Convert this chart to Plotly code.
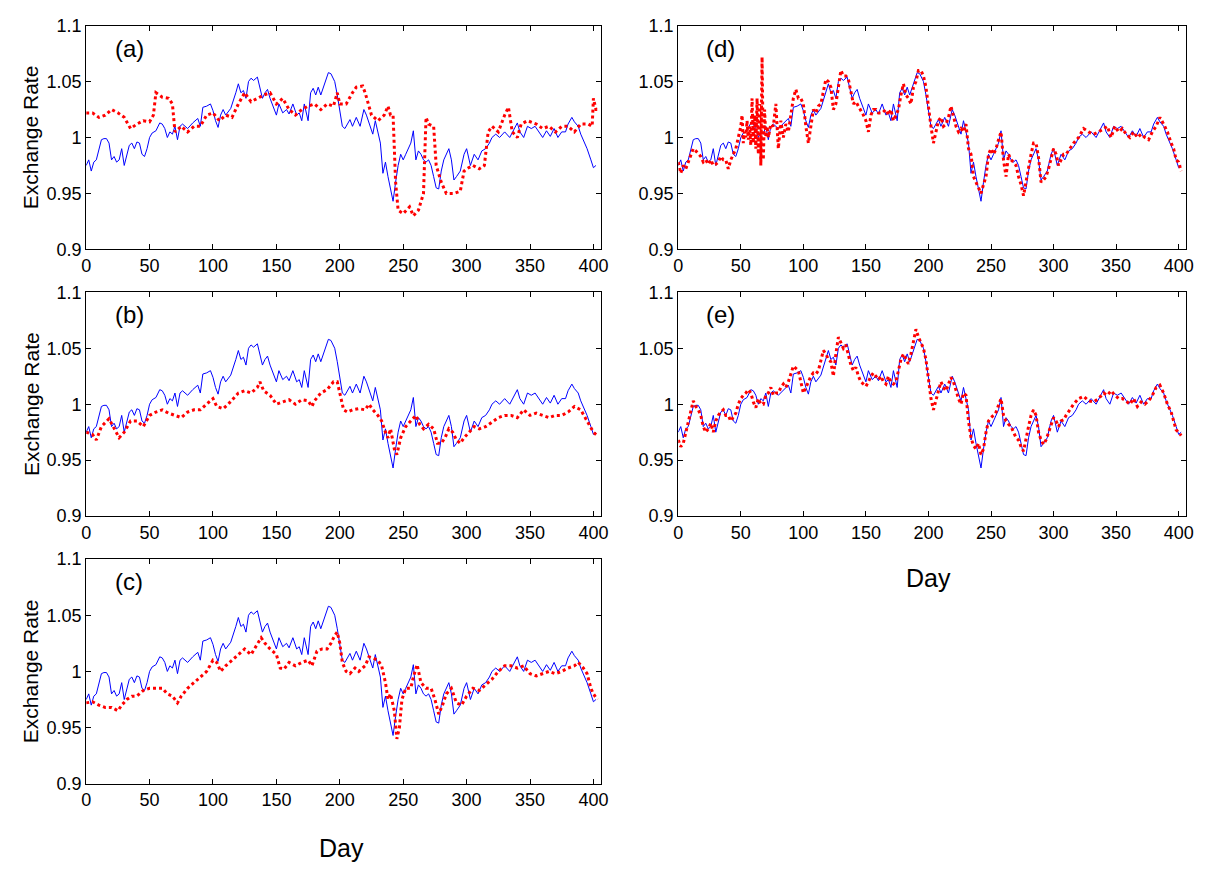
import plotly.graph_objects as go

# ---------------- data ----------------
actual_days = [0, 2, 4, 6, 8, 10, 12, 14, 16, 18, 20, 22, 24, 26, 28, 30, 32, 34, 36, 38, 40, 42, 44, 46, 48,
               50, 52, 55, 58, 60, 62, 64, 66, 68, 70, 72, 74, 76, 80, 84, 88, 90, 92, 95, 98, 100, 102, 104,
               106, 108, 110, 114, 118, 120, 122, 124, 126, 128, 130, 132, 135, 137, 139, 141, 143, 145, 148,
               150, 152, 155, 158, 160, 163, 166, 168, 170, 172, 175, 177, 179, 181, 183, 185, 187, 189, 191,
               193, 196, 198, 200, 202, 204, 206, 208, 210, 213, 216, 219, 221, 224, 226, 228, 230, 232, 234,
               236, 238, 240, 242, 244, 246, 248, 250, 252, 254, 256, 258, 260, 262, 264, 266, 268, 270, 272,
               274, 276, 278, 280, 282, 284, 286, 288, 290, 292, 295, 298, 300, 303, 306, 309, 312, 315, 318,
               320, 323, 326, 330, 334, 337, 340, 342, 345, 348, 351, 354, 357, 360, 363, 366, 369, 372, 375,
               378, 380, 383, 385, 388, 390, 392, 395, 398, 400, 402]
actual_vals = [0.975, 0.98, 0.97, 0.978, 0.98, 0.99, 0.998, 0.999, 0.999, 0.995, 0.98, 0.983, 0.978, 0.98, 0.99,
               0.975, 0.985, 0.993, 0.995, 0.99, 0.996, 0.995, 0.985, 0.983, 0.99,
               1.0, 1.004, 1.006, 1.013, 1.012, 1.008, 1.0, 1.005, 1.003, 1.01, 0.998, 1.01, 1.012, 1.008,
               1.013, 1.017, 1.01, 1.027, 1.028, 1.03, 1.024, 1.015, 1.009,
               1.02, 1.025, 1.02, 1.026, 1.04, 1.048, 1.04, 1.042, 1.035, 1.05, 1.053, 1.051, 1.054, 1.045,
               1.035, 1.04, 1.043, 1.035, 1.025,
               1.02, 1.03, 1.022, 1.025, 1.021, 1.03, 1.02, 1.022, 1.015, 1.03, 1.015, 1.04, 1.044, 1.038,
               1.045, 1.038, 1.045, 1.05, 1.058,
               1.057, 1.05, 1.038, 1.025, 1.01, 1.008, 1.012, 1.016, 1.01, 1.018, 1.01, 1.025, 1.02, 1.01,
               1.003, 1.015, 1.005, 0.995, 0.968,
               0.978, 0.965, 0.955, 0.943, 0.96, 0.975, 0.985, 0.98, 0.985, 0.99, 0.995, 1.006, 0.98, 0.988,
               0.985, 0.98, 0.978, 0.98, 0.975,
               0.965, 0.955, 0.954, 0.97, 0.98, 0.985, 0.99, 0.98, 0.962, 0.965, 0.97, 0.985, 0.99, 0.975,
               0.985, 0.98, 0.988, 0.99, 0.995,
               1.0, 1.003, 1.0, 1.005, 1.0, 1.007, 1.013, 1.005, 1.0, 1.01, 1.008, 1.01, 1.005, 1.0, 1.006,
               1.001, 1.008, 1.0, 1.005,
               1.005, 1.012, 1.018, 1.014, 1.01, 1.003, 0.998, 0.99, 0.98, 0.973, 0.975]

pred_a_days = [0, 5, 10, 15, 20, 25, 30, 35, 40, 45, 50, 53, 55, 60, 65, 68, 70, 75, 80, 85, 90, 95, 100, 105,
               110, 115, 120, 125, 128, 130, 135, 140, 145, 150, 155, 160, 165, 170, 175, 180, 185, 190, 195,
               198, 200, 205, 210, 213, 218, 220, 225, 230, 235, 238, 240, 242, 244, 246, 250, 255, 258, 262,
               266, 268, 270, 274, 276, 280, 284, 290, 295, 298, 300, 305, 310, 314, 317, 320, 325, 330, 333,
               336, 340, 343, 348, 355, 360, 365, 370, 375, 380, 385, 390, 396, 399, 400, 402, 404]
pred_a_vals = [1.022, 1.022, 1.018, 1.02, 1.025, 1.022, 1.018, 1.008, 1.012, 1.015, 1.014, 1.02, 1.04, 1.036,
               1.035, 1.03, 1.005, 1.01, 1.005, 1.01, 1.01, 1.02, 1.022, 1.015,
               1.02, 1.018, 1.03, 1.04, 1.035, 1.032, 1.035, 1.038, 1.04, 1.03, 1.035, 1.025, 1.02, 1.025,
               1.028, 1.03, 1.025, 1.03, 1.028,
               1.04, 1.03, 1.03, 1.04, 1.045, 1.046, 1.04, 1.02, 1.015, 1.02, 1.028, 1.02, 1.02, 0.96, 0.935,
               0.932, 0.938, 0.93, 0.935,
               0.95, 1.018, 1.012, 1.01, 0.975, 0.96, 0.95, 0.95, 0.952, 0.97, 0.972, 0.975, 0.972, 0.975,
               1.005, 1.01, 1.005, 1.02, 1.027,
               1.005, 1.0, 1.012, 1.015, 1.012, 1.008, 1.01, 1.005, 1.01, 1.01, 1.005, 1.012, 1.012, 1.01,
               1.035, 1.025, 1.025]

pred_b_days = [0, 5, 8, 12, 18, 22, 26, 30, 35, 40, 45, 50, 55, 60, 65, 70, 75, 80, 85, 90, 95, 100, 103, 108,
               112, 116, 120, 125, 130, 135, 137, 140, 145, 150, 155, 160, 165, 170, 175, 178, 180, 185, 190,
               195, 198, 200, 203, 206, 210, 215, 220, 223, 226, 230, 233, 236, 238, 240, 243, 245, 248, 252,
               256, 260, 263, 266, 270, 274, 277, 280, 283, 286, 289, 292, 295, 298, 302, 306, 310, 315, 320,
               325, 330, 335, 340, 345, 350, 355, 360, 365, 370, 375, 380, 385, 390, 395, 400, 403]
pred_b_vals = [0.975, 0.973, 0.968, 0.98, 0.987, 0.978, 0.97, 0.975, 0.985, 0.985, 0.98, 0.99, 0.993, 0.995,
               0.992, 0.99, 0.988, 0.993, 0.995, 0.995, 1.0, 1.005, 0.998, 0.996,
               1.0, 1.005, 1.01, 1.012, 1.01, 1.015, 1.02, 1.012, 1.008, 1.0, 1.002, 1.004, 1.0, 1.004, 1.003,
               0.998, 1.003, 1.01, 1.013,
               1.02, 1.02, 1.01, 0.995, 0.993, 0.995, 0.996, 0.995, 1.0, 0.995, 0.99, 0.985, 0.975, 0.97,
               0.978, 0.96, 0.955, 0.97, 0.98,
               0.985, 0.99, 0.982, 0.978, 0.982, 0.978, 0.965, 0.965, 0.97, 0.978, 0.975, 0.968, 0.965, 0.97,
               0.975, 0.98, 0.978, 0.98, 0.984,
               0.988, 0.99, 0.99, 0.988, 0.995, 0.99, 0.992, 0.99, 0.988, 0.99, 0.99, 0.993, 0.998, 0.995,
               0.985, 0.975, 0.972]

pred_c_days = [0, 5, 10, 15, 20, 25, 28, 32, 36, 40, 45, 50, 55, 60, 64, 68, 72, 75, 80, 85, 90, 95, 100, 103,
               106, 110, 115, 120, 125, 130, 135, 138, 141, 145, 150, 153, 156, 160, 165, 170, 175, 178, 182,
               186, 190, 193, 196, 198, 200, 202, 205, 208, 212, 215, 220, 223, 226, 230, 233, 236, 238, 240,
               243, 245, 247, 249, 252, 256, 258, 261, 264, 268, 272, 275, 278, 281, 284, 288, 292, 296, 300,
               305, 310, 315, 320, 325, 330, 335, 340, 345, 350, 355, 360, 365, 370, 375, 380, 385, 388, 392,
               395, 398, 400, 403]
pred_c_vals = [0.972, 0.973, 0.97, 0.968, 0.968, 0.965, 0.97, 0.975, 0.978, 0.978, 0.983, 0.985, 0.985, 0.985,
               0.98, 0.978, 0.972, 0.978, 0.985, 0.99, 0.995, 1.0, 1.01, 1.008,
               1.0, 1.005, 1.01, 1.015, 1.02, 1.015, 1.025, 1.03, 1.025, 1.02, 1.015, 1.003, 1.002, 1.008,
               1.005, 1.008, 1.01, 1.005, 1.018,
               1.02, 1.02, 1.025, 1.032, 1.035, 1.025, 1.008, 1.0, 0.998, 1.003, 1.0, 1.005, 1.013, 1.012,
               1.01, 1.005, 0.99, 0.975, 0.98,
               0.965, 0.94, 0.95, 0.975, 0.985, 0.985, 0.995, 1.006, 0.99, 0.985, 0.985, 0.975, 0.962, 0.97,
               0.98, 0.985, 0.972, 0.97, 0.978,
               0.985, 0.983, 0.988, 0.993, 1.0, 1.005, 1.005, 1.003, 1.005, 0.998, 0.996, 0.998, 1.0, 0.998,
               1.0, 1.003, 1.005, 1.008, 1.003,
               0.998, 0.985, 0.98, 0.975]

pred_d_days = [0, 2, 4, 6, 8, 10, 12, 14, 16, 18, 20, 22, 24, 26, 28, 30, 32, 34, 36, 38, 40, 42, 44, 46, 48,
               50, 51, 52, 53, 54, 55, 56, 57, 58, 59, 60, 61, 62, 63, 64, 65, 66, 67, 68, 69, 70, 71, 72, 74,
               76, 78, 80, 82, 84, 86, 88, 90, 92, 94, 96, 98, 100, 102, 104, 106, 108, 110, 112, 114, 116,
               118, 120, 122, 124, 126, 128, 130, 132, 134, 136, 138, 140, 142, 144, 146, 148, 150, 152, 154,
               156, 158, 160, 163, 166, 168, 170, 172, 174, 176, 178, 180, 182, 184, 186, 188, 190, 192, 194,
               196, 198, 200, 202, 204, 206, 208, 210, 212, 214, 216, 218, 220, 222, 224, 226, 228, 230, 232,
               234, 236, 238, 240, 242, 244, 246, 248, 250, 252, 254, 256, 258, 260, 262, 264, 266, 268, 270,
               272, 274, 276, 278, 280, 282, 284, 286, 288, 290, 292, 294, 296, 298, 300, 302, 304, 306, 308,
               310, 313, 316, 320, 324, 328, 332, 336, 340, 343, 346, 349, 352, 355, 358, 361, 364, 367, 370,
               373, 376, 379, 382, 385, 388, 391, 394, 396, 398, 400, 402]
pred_d_vals = [0.978, 0.968, 0.975, 0.972, 0.978, 0.985, 0.99, 0.988, 0.985, 0.983, 0.978, 0.98, 0.976, 0.98,
               0.975, 0.976, 0.978, 0.983, 0.98, 0.98, 0.972, 0.98, 0.985, 0.99, 1.0,
               1.01, 1.02, 0.995, 1.005, 1.0, 1.015, 0.998, 1.01, 0.993, 1.035, 0.995, 1.02, 0.99, 1.035, 0.985,
               1.03, 0.975, 1.072, 0.98, 1.025, 1.0, 1.01, 1.0, 1.012,
               1.01, 1.03, 0.99, 1.015, 1.0, 1.012, 1.005, 1.02, 1.035, 1.043, 1.035, 1.035, 1.03, 1.01, 0.995,
               1.01, 1.025, 1.022, 1.028, 1.03, 1.04,
               1.052, 1.05, 1.045, 1.025, 1.03, 1.045, 1.06, 1.055, 1.055, 1.052, 1.04, 1.03, 1.032, 1.028,
               1.025, 1.02, 1.015, 1.005, 1.02,
               1.025, 1.025, 1.022, 1.022, 1.025, 1.02, 1.025, 1.015, 1.02, 1.025, 1.038, 1.048, 1.038, 1.035,
               1.03, 1.045, 1.05, 1.06, 1.06,
               1.055, 1.045, 1.025, 1.01, 0.995, 1.005, 1.015, 1.018, 1.01, 1.012, 1.018, 1.028, 1.02, 1.01,
               1.005, 1.008, 1.005, 1.012, 0.99,
               0.985, 0.965, 0.96, 0.955, 0.95, 0.958, 0.965, 0.985, 0.99, 0.985, 0.99, 0.998, 1.005, 0.98,
               0.965, 0.985, 0.98, 0.978, 0.975,
               0.965, 0.958, 0.948, 0.96, 0.975, 0.985, 0.995, 0.995, 0.982, 0.96, 0.962, 0.965, 0.972, 0.98,
               0.99, 0.985, 0.975, 0.98, 0.985,
               0.985, 0.99, 0.995, 1.0, 1.008, 1.005, 1.003, 1.005, 1.008, 1.01, 1.0, 1.01, 1.005, 1.008, 1.003,
               1.0, 1.005, 1.0, 1.003,
               1.0, 0.998, 1.005, 1.01, 1.018, 1.012, 1.005, 0.995, 0.99, 0.98, 0.978, 0.97]

pred_e_days = [0, 2, 4, 6, 8, 10, 12, 14, 16, 18, 20, 22, 24, 26, 28, 30, 32, 34, 36, 38, 40, 42, 44, 46, 48,
               50, 52, 54, 56, 58, 60, 62, 64, 66, 68, 70, 72, 74, 76, 78, 80, 82, 84, 86, 88, 90, 92, 94, 96,
               98, 100, 102, 104, 106, 108, 110, 112, 114, 116, 118, 120, 122, 124, 126, 128, 130, 132, 134,
               136, 138, 140, 142, 144, 146, 148, 150, 152, 154, 156, 158, 160, 162, 164, 166, 168, 170, 172,
               174, 176, 178, 180, 182, 184, 186, 188, 190, 192, 194, 196, 198, 200, 202, 204, 206, 208, 210,
               212, 214, 216, 218, 220, 222, 224, 226, 228, 230, 232, 234, 236, 238, 240, 242, 244, 246, 248,
               250, 252, 254, 256, 258, 260, 262, 264, 266, 268, 270, 272, 274, 276, 278, 280, 282, 284, 286,
               288, 290, 292, 294, 296, 298, 300, 302, 304, 306, 308, 310, 313, 316, 320, 324, 328, 332, 336,
               340, 343, 346, 349, 352, 355, 358, 361, 364, 367, 370, 373, 376, 379, 382, 385, 388, 391, 394,
               396, 398, 400, 402]
pred_e_vals = [0.968, 0.962, 0.965, 0.975, 0.985, 0.995, 1.003, 0.998, 0.995, 0.99, 0.98, 0.975, 0.978, 0.983,
               0.975, 0.985, 0.99, 0.993, 0.995, 0.99, 0.99, 0.985, 0.988, 0.992, 1.0,
               1.005, 1.008, 1.01, 1.013, 1.01, 1.002, 0.997, 1.005, 1.0, 1.0, 1.008, 1.01, 1.015, 1.008, 1.01,
               1.01, 1.015, 1.018, 1.015, 1.02, 1.028, 1.034, 1.032, 1.03,
               1.02, 1.01, 1.015, 1.02, 1.025, 1.028, 1.027, 1.03, 1.038, 1.048, 1.045, 1.04, 1.038, 1.025,
               1.045, 1.06, 1.055, 1.05, 1.053,
               1.045, 1.035, 1.03, 1.033, 1.025, 1.02, 1.018, 1.016, 1.02, 1.025, 1.028, 1.025, 1.022, 1.025,
               1.02, 1.018, 1.025, 1.02, 1.018,
               1.02, 1.03, 1.04, 1.045, 1.04, 1.036, 1.045, 1.055, 1.067, 1.06, 1.055, 1.05, 1.04, 1.02, 1.005,
               0.995, 1.005, 1.012, 1.02,
               1.015, 1.012, 1.018, 1.024, 1.02, 1.012, 1.005, 1.0, 1.01, 1.008, 0.985, 0.97, 0.963, 0.96,
               0.965, 0.955, 0.96, 0.975, 0.985,
               0.988, 0.99, 0.993, 1.0, 1.005, 0.99, 0.985, 0.982, 0.98, 0.975, 0.97, 0.968, 0.962, 0.958,
               0.97, 0.98, 0.99, 0.995, 0.99,
               0.975, 0.968, 0.964, 0.968, 0.975, 0.98, 0.988, 0.985, 0.98, 0.985, 0.986, 0.99, 0.995, 1.0,
               1.005, 1.007, 1.003, 1.002, 1.005,
               1.01, 1.008, 1.012, 1.008, 1.005, 1.005, 1.003, 1.0, 1.005, 0.998, 1.002, 1.0, 1.003, 1.008,
               1.015, 1.017, 1.01, 1.0, 0.993,
               0.985, 0.977, 0.975, 0.972]

panel_labels = ["(a)", "(b)", "(c)", "(d)", "(e)"]
pred_days = [pred_a_days, pred_b_days, pred_c_days, pred_d_days, pred_e_days]
pred_vals = [pred_a_vals, pred_b_vals, pred_c_vals, pred_d_vals, pred_e_vals]

y_tickvals = [0.9, 0.95, 1.0, 1.05, 1.1]
y_ticktext = ["0.9", "0.95", "1", "1.05", "1.1"]
x_tickvals = [0, 50, 100, 150, 200, 250, 300, 350, 400]

# ---------------- layout geometry ----------------
W, H = 1210, 869
col_px = [(82, 602), (680, 1193)]
row_px = [(16, 245), (289, 518), (562, 792)]
# panel -> (col, row)
panel_pos = [(0, 0), (0, 1), (0, 2), (1, 0), (1, 1)]

fig = go.Figure()
font_family = "Arial, Liberation Sans, sans-serif"

layout_axes = {}
annotations = []
for i, (c, r) in enumerate(panel_pos):
    n = i + 1
    xa = "xaxis" if n == 1 else f"xaxis{n}"
    ya = "yaxis" if n == 1 else f"yaxis{n}"
    xref = "x" if n == 1 else f"x{n}"
    yref = "y" if n == 1 else f"y{n}"
    x0, x1 = col_px[c]
    t, b = row_px[r]
    layout_axes[xa] = dict(
        domain=[x0 / W, x1 / W], anchor=yref, range=[0, 406],
        tickvals=x_tickvals, ticks="inside", ticklen=5, tickcolor="black",
        showline=True, linecolor="black", linewidth=1, mirror="ticks",
        showgrid=False, zeroline=False,
        tickfont=dict(family=font_family, size=18, color="black"),
    )
    layout_axes[ya] = dict(
        domain=[1 - b / H, 1 - t / H], anchor=xref, range=[0.9, 1.1],
        tickvals=y_tickvals, ticktext=y_ticktext, ticks="inside", ticklen=5, tickcolor="black",
        showline=True, linecolor="black", linewidth=1, mirror="ticks",
        showgrid=False, zeroline=False,
        tickfont=dict(family=font_family, size=18, color="black"),
    )
    fig.add_trace(go.Scatter(x=actual_days, y=actual_vals, mode="lines",
                             line=dict(color="#0000FF", width=1), xaxis=xref, yaxis=yref,
                             showlegend=False))
    fig.add_trace(go.Scatter(x=pred_days[i], y=pred_vals[i], mode="lines",
                             line=dict(color="#FF0000", width=3, dash="dot"), xaxis=xref, yaxis=yref,
                             showlegend=False))
    annotations.append(dict(x=34, y=1.08, xref=xref, yref=yref, text=panel_labels[i],
                            xanchor="center", yanchor="middle",
                            showarrow=False, font=dict(family=font_family, size=24, color="black")))
    if c == 0:
        annotations.append(dict(x=26 / W, y=1 - ((t + b) / 2) / H, xref="paper", yref="paper",
                                text="Exchange Rate", textangle=-90, showarrow=False,
                                xanchor="center", yanchor="middle",
                                font=dict(family=font_family, size=21, color="black")))

annotations.append(dict(x=340 / W, y=1 - 858 / H, xref="paper", yref="paper", text="Day",
                        xanchor="center", yanchor="middle",
                        showarrow=False, font=dict(family=font_family, size=25, color="black")))
annotations.append(dict(x=933 / W, y=1 - 581 / H, xref="paper", yref="paper", text="Day",
                        xanchor="center", yanchor="middle",
                        showarrow=False, font=dict(family=font_family, size=25, color="black")))

fig.update_layout(
    width=W, height=H, margin=dict(l=0, r=0, t=0, b=0),
    paper_bgcolor="white", plot_bgcolor="white",
    annotations=annotations, showlegend=False,
    **layout_axes,
)

fig.write_html("out.html")
